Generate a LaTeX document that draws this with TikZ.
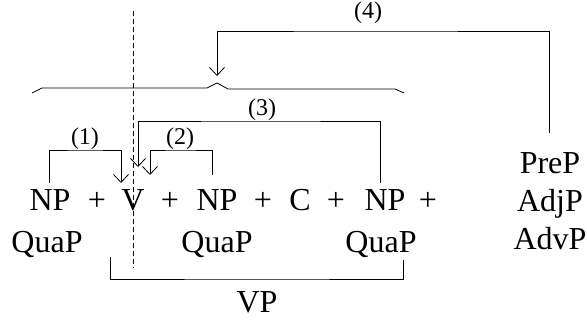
\documentclass[tikz,border=0pt]{standalone}
\usepackage{fontspec}
\setmainfont{Liberation Serif}
\usetikzlibrary{arrows.meta}
\tikzset{
  word/.style={inner sep=0pt, anchor=base, font=\fontsize{32}{38}\selectfont},
  lab/.style={inner sep=0pt, anchor=base, font=\fontsize{24}{28}\selectfont},
  conn/.style={line width=0.8pt},
  arr/.style={conn, -{Straight Barb[length=8pt,width=15pt,line width=0.8pt]}},
}
\begin{document}
\begin{tikzpicture}[x=1pt,y=-1pt]
\useasboundingbox (0,0) rectangle (587,320);
% main row
\node[word] (np1) at (50,211) {NP};
\node[word] (p1) at (97,211) {+};
\node[word] (v) at (133,211) {V};
\node[word] (p2) at (170,211) {+};
\node[word] (np2) at (217,211) {NP};
\node[word] (p3) at (263,211) {+};
\node[word] (c) at (300,211) {C};
\node[word] (p4) at (336,211) {+};
\node[word] (np3) at (385,211) {NP};
\node[word] (p5) at (428,211) {+};
% quap row
\node[word] (q1) at (47,253) {QuaP};
\node[word] (q2) at (217,253) {QuaP};
\node[word] (q3) at (381,253) {QuaP};
% right column
\node[word] (prep) at (550,174) {PreP};
\node[word] (adjp) at (550,212) {AdjP};
\node[word] (advp) at (550,250) {AdvP};
% VP
\node[word] (vp) at (257,313) {VP};
% labels
\node[lab] (l1) at (85,145) {(1)};
\node[lab] (l2) at (180,145) {(2)};
\node[lab] (l3) at (262,116) {(3)};
\node[lab] (l4) at (368,19) {(4)};
% connector coordinates
\coordinate (a1s) at (49,183);
\coordinate (a1e) at (121,183);
\coordinate (a2s) at (212,175);
\coordinate (a2e) at (150,175);
\coordinate (a3s) at (380,183);
\coordinate (a3e) at (138,167);
\coordinate (a4s) at (549,133);
\coordinate (a4e) at (217,76);
\coordinate (d1) at (133,11);
\coordinate (d2) at (133,268);
\coordinate (vps) at (110,257);
\coordinate (vpe) at (403,260);
% dashed line
\draw[conn, dash pattern=on 5pt off 3pt] (d1) -- (d2);
% brace
\draw[conn] (32,93) -- (42,88) -- (207,88) -- (217,83) -- (228,89) -- (395,89) -- (404,93);
% arrows
\draw[arr] (a1s) |- (85,150) -| (a1e);
\draw[arr] (a2s) |- (180,150) -| (a2e);
\draw[arr] (a3s) |- (262,121) -| (a3e);
\draw[arr] (a4s) |- (368,31) -| (a4e);
% VP bracket
\draw[conn] (vps) |- (257,279) -| (vpe);
\end{tikzpicture}
\end{document}
